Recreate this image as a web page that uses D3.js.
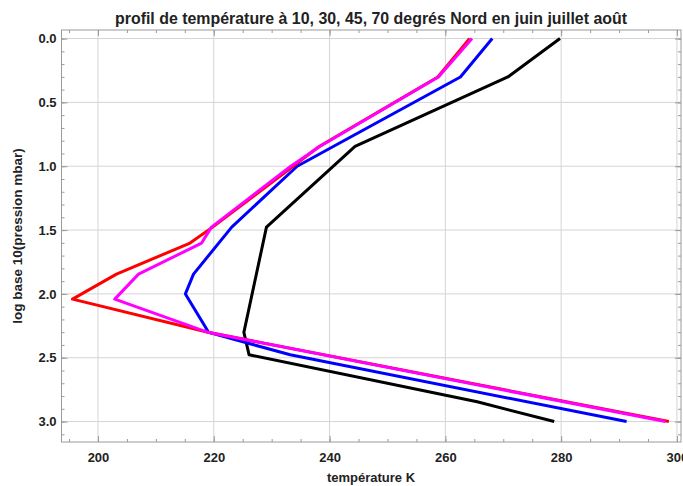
<!DOCTYPE html>
<html>
<head>
<meta charset="utf-8">
<script src="https://cdn.jsdelivr.net/npm/d3@7"></script>
<style>
  html, body { margin: 0; padding: 0; background: #fff; }
  svg text { font-family: "Liberation Sans Narrow", "Arial Narrow", "Liberation Sans", sans-serif; font-weight: bold; fill: #222; }
</style>
</head>
<body>
<svg id="chart" width="683" height="486"></svg>
<script>
// log10 of pressure (mbar) and temperature (K) for each latitude profile, June-July-August
const levels70N = [0, 0.301, 0.845, 1.477, 2.301, 2.477, 2.845, 3.0];
const temps70N  = [279.8, 270.8, 244.4, 229.1, 225.2, 226.1, 265.5, 278.8];

const levels45N = [0, 0.301, 1.0, 1.477, 1.845, 2.0, 2.301, 2.477, 3.0];
const temps45N  = [268.1, 262.6, 234.4, 223.1, 216.5, 215.1, 219.1, 233.2, 291.3];

const levels10N = [0, 0.301, 0.845, 1.0, 1.477, 1.602, 1.845, 2.041, 2.301, 3.0];
const temps10N  = [264.2, 258.7, 238.2, 233.7, 219.8, 215.9, 203.2, 195.6, 219.0, 298.6];

const levels30N = [0, 0.301, 0.845, 1.0, 1.477, 1.602, 1.845, 2.041, 2.301, 3.0];
const temps30N  = [264.6, 258.8, 238.3, 233.3, 219.6, 217.9, 207.0, 202.9, 219.0, 298.0];

const xTicks = [200, 220, 240, 260, 280, 300];
const yTicks = [0.0, 0.5, 1.0, 1.5, 2.0, 2.5, 3.0];

const titleText = "profil de température à 10, 30, 45, 70 degrés Nord en juin juillet août";
const xTitle = "température K";
const yTitle = "log base 10(pression mbar)";

const series = [
  { levels: levels70N, temps: temps70N, color: "#000000" },
  { levels: levels45N, temps: temps45N, color: "#0000ff" },
  { levels: levels10N, temps: temps10N, color: "#ff0000" },
  { levels: levels30N, temps: temps30N, color: "#ff00ff" }
];

const svg = d3.select("#chart");
const plotLeft = 61.5, plotRight = 681, plotTop = 30, plotBottom = 442;

const x = d3.scaleLinear().domain([193.7, 300.7]).range([plotLeft, plotRight]);
const y = d3.scaleLinear().domain([-0.067, 3.16]).range([plotTop, plotBottom]);

// grid
const grid = svg.append("g");
grid.selectAll("line.gx").data(xTicks).join("line")
  .attr("x1", d => x(d)).attr("x2", d => x(d))
  .attr("y1", plotTop).attr("y2", plotBottom)
  .attr("stroke", "#d4d4d4").attr("stroke-width", 1);
grid.selectAll("line.gy").data(yTicks).join("line")
  .attr("y1", d => y(d)).attr("y2", d => y(d))
  .attr("x1", plotLeft).attr("x2", plotRight)
  .attr("stroke", "#d4d4d4").attr("stroke-width", 1);

// inward ticks on all four sides
const xMinor = d3.range(195, 301, 5);
const yMinor = d3.range(0, 3.11, 0.1);
const axisColor = "#9a9a9a";
function addAxis(axisFn, scale, vals, len, transform) {
  const g = svg.append("g").attr("transform", transform)
    .call(axisFn(scale).tickValues(vals).tickSize(len).tickFormat(""));
  g.select(".domain").remove();
  g.selectAll("line").attr("stroke", axisColor);
}
addAxis(d3.axisTop, x, xMinor, 3, `translate(0,${plotBottom})`);
addAxis(d3.axisTop, x, xTicks, 6, `translate(0,${plotBottom})`);
addAxis(d3.axisBottom, x, xMinor, 3, `translate(0,${plotTop})`);
addAxis(d3.axisBottom, x, xTicks, 6, `translate(0,${plotTop})`);
addAxis(d3.axisRight, y, yMinor, 3, `translate(${plotLeft},0)`);
addAxis(d3.axisRight, y, yTicks, 6, `translate(${plotLeft},0)`);
addAxis(d3.axisLeft, y, yMinor, 3, `translate(${plotRight},0)`);
addAxis(d3.axisLeft, y, yTicks, 6, `translate(${plotRight},0)`);

// frame
svg.append("rect")
  .attr("x", plotLeft).attr("y", plotTop)
  .attr("width", plotRight - plotLeft).attr("height", plotBottom - plotTop)
  .attr("fill", "none").attr("stroke", axisColor).attr("stroke-width", 1);

// tick labels
const yAxis = svg.append("g").attr("transform", `translate(${plotLeft},0)`)
  .call(d3.axisLeft(y).tickValues(yTicks).tickSize(0).tickPadding(5).tickFormat(d3.format(".1f")));
yAxis.select(".domain").remove();
yAxis.selectAll("text").attr("font-size", 13);

const xAxis = svg.append("g").attr("transform", `translate(0,${plotBottom})`)
  .call(d3.axisBottom(x).tickValues(xTicks).tickSize(0).tickPadding(11).tickFormat(d3.format("d")));
xAxis.select(".domain").remove();
xAxis.selectAll("text").attr("font-size", 13);
svg.selectAll("g").attr("font-family", null).attr("font-size", null);

// profiles
const line = d3.line()
  .x(d => x(d.t))
  .y(d => y(d.p));

svg.append("g").selectAll("path").data(series).join("path")
  .attr("d", s => line(s.levels.map((p, i) => ({ p, t: s.temps[i] }))))
  .attr("fill", "none")
  .attr("stroke", s => s.color)
  .attr("stroke-width", 3)
  .attr("stroke-linejoin", "round")
  .attr("stroke-linecap", "butt");

// titles
svg.append("text")
  .attr("x", 371).attr("y", 24)
  .attr("text-anchor", "middle")
  .attr("font-size", 16)
  .attr("textLength", 512)
  .attr("lengthAdjust", "spacingAndGlyphs")
  .text(titleText);

svg.append("text")
  .attr("x", 371).attr("y", 482)
  .attr("text-anchor", "middle")
  .attr("font-size", 13)
  .text(xTitle);

svg.append("text")
  .attr("transform", `translate(22,236) rotate(-90)`)
  .attr("text-anchor", "middle")
  .attr("font-size", 13.5)
  .text(yTitle);
</script>
</body>
</html>
